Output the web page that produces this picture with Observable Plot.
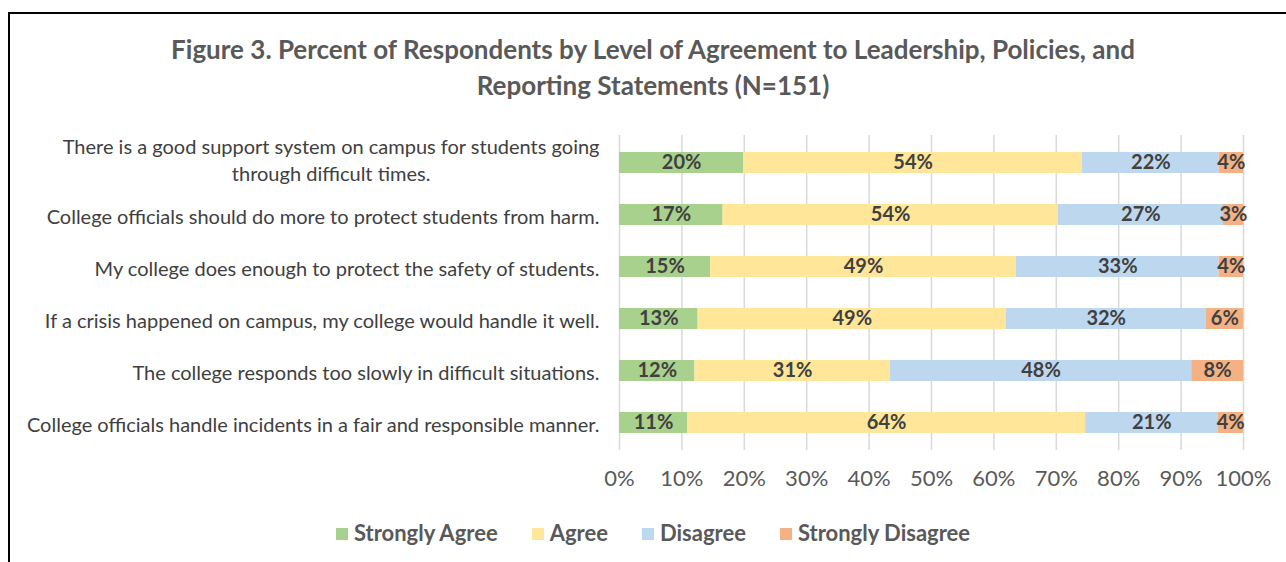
<!DOCTYPE html>
<html>
<head>
<meta charset="utf-8">
<script src="https://cdn.jsdelivr.net/npm/d3@7"></script>
<script src="https://cdn.jsdelivr.net/npm/@observablehq/plot@0.6"></script>
<style>
  html, body { margin: 0; padding: 0; background: #fff; }
  body { width: 1286px; height: 562px; position: relative; overflow: hidden; font-family: Lato, "Open Sans", sans-serif; }
  #frame { position: absolute; left: 8px; top: 12px; width: 1400px; height: 700px; border: 2px solid #000; box-sizing: border-box; }
  #title { position: absolute; left: 0; top: 31px; width: 1306px; text-align: center; font-weight: bold; font-size: 26px; line-height: 36px; color: #595959; }
  #chart { position: absolute; left: 0; top: 0; }
  #legend { position: absolute; left: 0; top: 519px; width: 1306px; text-align: center; font-weight: bold; font-size: 22px; color: #595959; }
  #legend span.item { display: inline-block; margin: 0 17px; white-space: nowrap; }
  #legend span.sw { display: inline-block; width: 12px; height: 12px; margin-right: 6px; vertical-align: 1px; }
</style>
</head>
<body>
<div id="frame"></div>
<div id="title">Figure 3. Percent of Respondents by Level of Agreement to Leadership, Policies, and<br>Reporting Statements (N=151)</div>
<div id="chart"></div>
<div id="legend"></div>
<script>
const categories = [
  "There is a good support system on campus for students going\nthrough difficult times.",
  "College officials should do more to protect students from harm.",
  "My college does enough to protect the safety of students.",
  "If a crisis happened on campus, my college would handle it well.",
  "The college responds too slowly in difficult situations.",
  "College officials handle incidents in a fair and responsible manner."
];
const levels = ["Strongly Agree", "Agree", "Disagree", "Strongly Disagree"];
const colors = ["#A9D18E", "#FFE699", "#BDD7EE", "#F4B183"];
const stronglyAgree    = [19.9, 16.6, 14.6, 12.6, 12.1, 10.9];
const agree            = [54.3, 53.7, 49.0, 49.4, 31.3, 63.8];
const disagree         = [21.9, 26.5, 32.5, 32.0, 48.3, 21.2];
const stronglyDisagree = [ 3.9,  3.2,  3.9,  6.0,  8.3,  4.1];
const xTicks = [0, 0.1, 0.2, 0.3, 0.4, 0.5, 0.6, 0.7, 0.8, 0.9, 1];

const series = [stronglyAgree, agree, disagree, stronglyDisagree];
const data = [];
categories.forEach((c, i) => {
  levels.forEach((l, j) => data.push({category: c, level: l, value: series[j][i]}));
});

const stackOpts = {x: "value", y: "category", fill: "level", order: levels, offset: "normalize"};

const chart = Plot.plot({
  width: 1286,
  height: 562,
  marginLeft: 619,
  marginRight: 43,
  marginTop: 135,
  marginBottom: 112,
  style: {fontFamily: "Lato, 'Open Sans', sans-serif", background: "transparent"},
  x: {domain: [0, 1], ticks: xTicks, tickFormat: d => Math.round(d * 100) + "%"},
  y: {domain: categories, paddingInner: 0.6, paddingOuter: 0.3},
  color: {domain: levels, range: colors},
  marks: [
    Plot.gridX(xTicks, {stroke: "#D9D9D9", strokeOpacity: 1, strokeWidth: 1.5}),
    Plot.axisX({ticks: xTicks, tickSize: 0, tickPadding: 20, fontSize: 22, color: "#595959", tickFormat: d => Math.round(d * 100) + "%", label: null}),
    Plot.axisY({tickSize: 0, tickPadding: 20, fontSize: 20, color: "#404040", label: null, lineHeight: 1.35}),
    Plot.barX(data, Plot.stackX(stackOpts)),
    Plot.text(data, Plot.stackX({...stackOpts, text: d => Math.round(d.value) + "%", fill: null, z: "level"})),
  ]
});
document.getElementById("chart").appendChild(chart);

// fill text labels
chart.querySelectorAll("g[aria-label='text'] text").forEach(t => {
  t.setAttribute("fill", "#404040");
  t.setAttribute("font-weight", "bold");
  t.setAttribute("font-size", "20");
});

// center the wrapped y label lines relative to each other
chart.querySelectorAll("g[aria-label='y-axis tick label'] text").forEach(t => {
  const spans = t.querySelectorAll("tspan");
  if (spans.length > 1) {
    const w = t.getBBox().width;
    t.setAttribute("text-anchor", "middle");
    const tr = t.getAttribute("transform") || "";
    t.setAttribute("transform", tr + ` translate(${-w / 2},-4)`);
  }
});

const legend = document.getElementById("legend");
levels.forEach((l, i) => {
  const item = document.createElement("span");
  item.className = "item";
  item.innerHTML = `<span class="sw" style="background:${colors[i]}"></span>${l}`;
  legend.appendChild(item);
});
</script>
</body>
</html>
